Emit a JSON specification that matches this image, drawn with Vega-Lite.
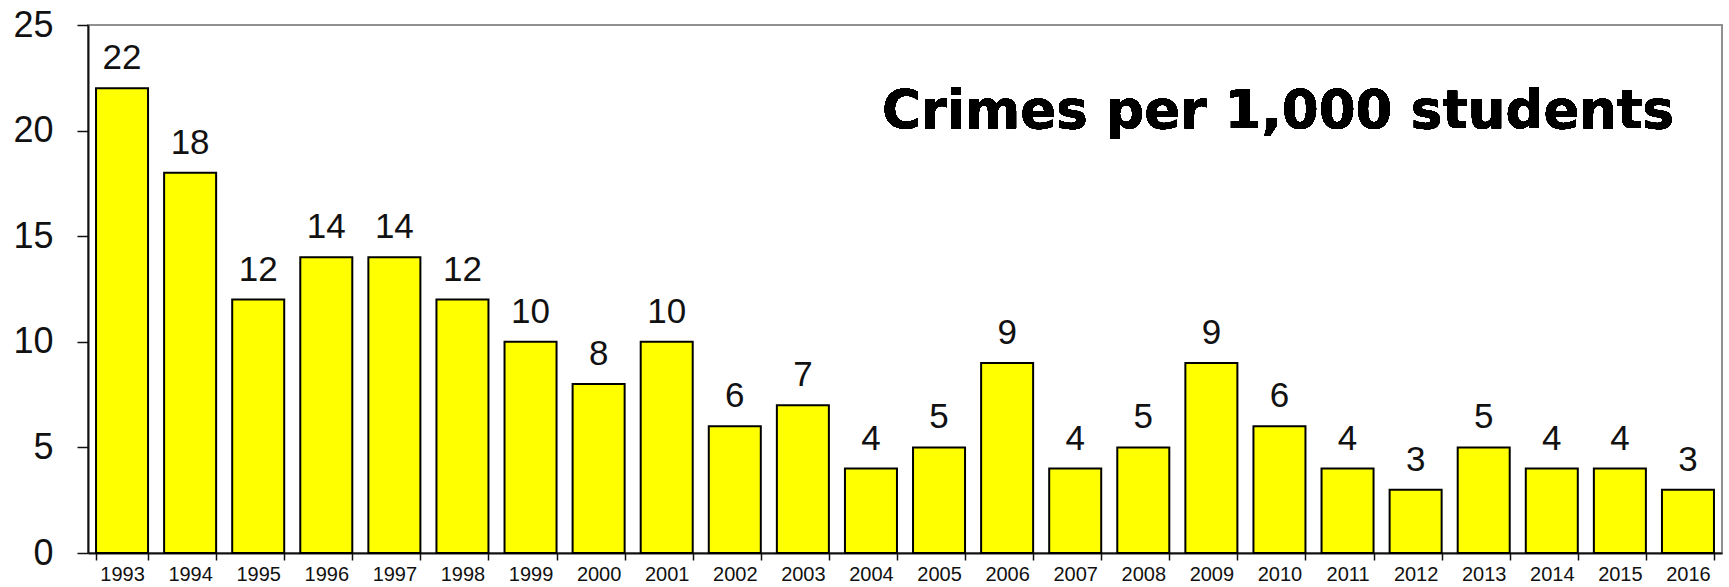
{
  "$schema": "https://vega.github.io/schema/vega-lite/v6.json",
  "autosize": "none",
  "width": 1634,
  "height": 528,
  "padding": {"left": 88, "top": 25, "right": 7, "bottom": 34},
  "background": "white",
  "config": {
    "view": {"stroke": "#909090", "strokeWidth": 2},
    "font": "Liberation Sans"
  },
  "data": {
    "values": [
      {"year": "1993", "rate": 22},
      {"year": "1994", "rate": 18},
      {"year": "1995", "rate": 12},
      {"year": "1996", "rate": 14},
      {"year": "1997", "rate": 14},
      {"year": "1998", "rate": 12},
      {"year": "1999", "rate": 10},
      {"year": "2000", "rate": 8},
      {"year": "2001", "rate": 10},
      {"year": "2002", "rate": 6},
      {"year": "2003", "rate": 7},
      {"year": "2004", "rate": 4},
      {"year": "2005", "rate": 5},
      {"year": "2006", "rate": 9},
      {"year": "2007", "rate": 4},
      {"year": "2008", "rate": 5},
      {"year": "2009", "rate": 9},
      {"year": "2010", "rate": 6},
      {"year": "2011", "rate": 4},
      {"year": "2012", "rate": 3},
      {"year": "2013", "rate": 5},
      {"year": "2014", "rate": 4},
      {"year": "2015", "rate": 4},
      {"year": "2016", "rate": 3}
    ]
  },
  "encoding": {
    "x": {
      "field": "year",
      "type": "ordinal",
      "scale": {"paddingInner": 0.236, "paddingOuter": 0.118},
      "axis": {
        "title": null,
        "labelAngle": 0,
        "labelFont": "Liberation Sans",
        "labelFontSize": 20,
        "labelColor": "#111",
        "labelPadding": 4,
        "tickBand": "extent",
        "tickSize": 7,
        "tickColor": "#111",
        "tickWidth": 1.5,
        "domainColor": "#111",
        "domainWidth": 2
      }
    },
    "y": {
      "field": "rate",
      "type": "quantitative",
      "scale": {"domain": [0, 25], "nice": false},
      "axis": {
        "title": null,
        "values": [0, 5, 10, 15, 20, 25],
        "grid": false,
        "labelFont": "Liberation Sans",
        "labelFontSize": 36,
        "labelColor": "#111",
        "labelPadding": 24,
        "tickSize": 11,
        "tickColor": "#111",
        "tickWidth": 1.5,
        "domainColor": "#111",
        "domainWidth": 2
      }
    }
  },
  "layer": [
    {
      "mark": {"type": "bar", "fill": "#FFFF00", "stroke": "#000", "strokeWidth": 2}
    },
    {
      "mark": {"type": "text", "baseline": "alphabetic", "dy": -19, "fontSize": 35, "font": "Liberation Sans", "color": "#111"},
      "encoding": {"text": {"field": "rate", "type": "quantitative"}}
    },
    {
      "mark": {"type": "text", "align": "right", "baseline": "alphabetic", "dx": -14, "fontSize": 53, "fontWeight": "bold", "font": "DejaVu Sans", "color": "#000"},
      "encoding": {
        "x": {"datum": "2016"},
        "y": {"datum": 20.1},
        "text": {"value": "Crimes per 1,000 students"}
      }
    }
  ]
}
